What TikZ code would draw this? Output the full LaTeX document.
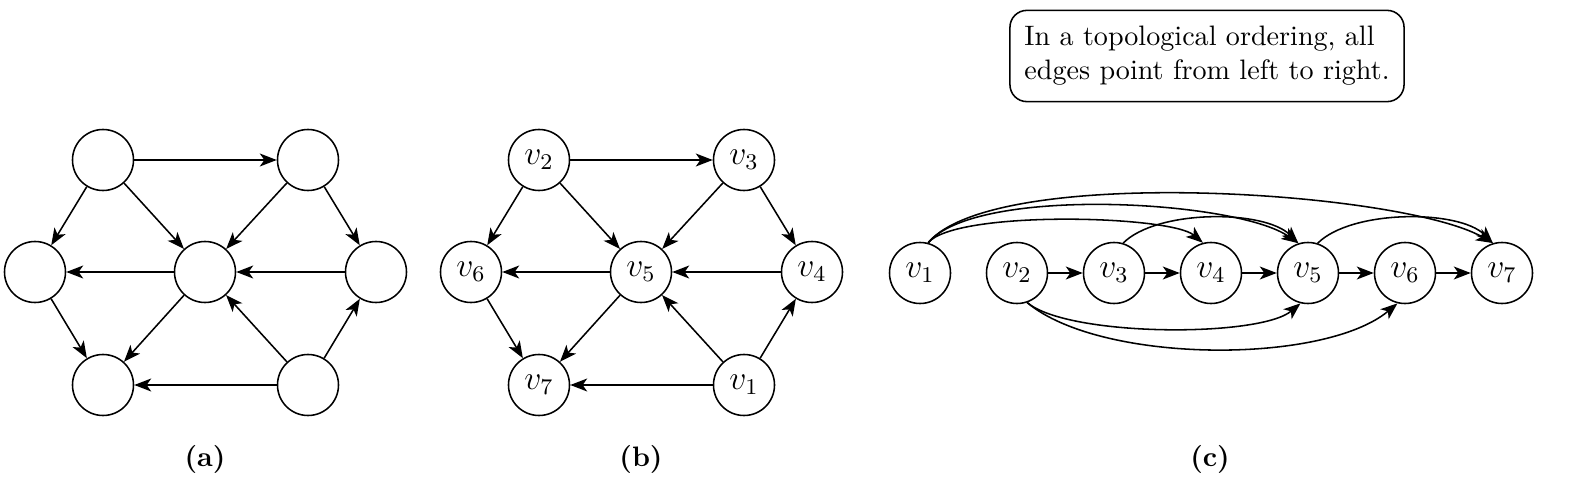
\documentclass[tikz,border=0pt]{standalone}
\usetikzlibrary{arrows.meta}
\begin{document}
\begin{tikzpicture}[x=0.0125cm, y=-0.0125cm, line width=0.55pt,
% common options for the vertices:
vert/.style = {circle, draw, minimum size=0.7625cm, inner sep=0, font=\large},
% common options for the edges:
edge/.style = {-{Stealth[length=6pt, width=4.6pt, inset=1.6pt]}},
% common options for the captions:
capt/.style = {font=\bfseries, anchor=center}]
\useasboundingbox (0,0) rectangle (1571,487);
% (a) unlabelled graph
\node[vert] (A2) at (103,160) {};
\node[vert] (A3) at (308,160) {};
\node[vert] (A6) at (35,272) {};
\node[vert] (A5) at (205,272) {};
\node[vert] (A4) at (376,272) {};
\node[vert] (A7) at (103,385) {};
\node[vert] (A1) at (308,385) {};
\draw[edge] (A2) -- (A3);
\draw[edge] (A2) -- (A6);
\draw[edge] (A2) -- (A5);
\draw[edge] (A3) -- (A5);
\draw[edge] (A3) -- (A4);
\draw[edge] (A5) -- (A6);
\draw[edge] (A4) -- (A5);
\draw[edge] (A6) -- (A7);
\draw[edge] (A5) -- (A7);
\draw[edge] (A1) -- (A7);
\draw[edge] (A1) -- (A5);
\draw[edge] (A1) -- (A4);
% (b) labelled graph
\node[vert] (B2) at (539,160) {$v_2$};
\node[vert] (B3) at (744,160) {$v_3$};
\node[vert] (B6) at (471,272) {$v_6$};
\node[vert] (B5) at (641,272) {$v_5$};
\node[vert] (B4) at (812,272) {$v_4$};
\node[vert] (B7) at (539,385) {$v_7$};
\node[vert] (B1) at (744,385) {$v_1$};
\draw[edge] (B2) -- (B3);
\draw[edge] (B2) -- (B6);
\draw[edge] (B2) -- (B5);
\draw[edge] (B3) -- (B5);
\draw[edge] (B3) -- (B4);
\draw[edge] (B5) -- (B6);
\draw[edge] (B4) -- (B5);
\draw[edge] (B6) -- (B7);
\draw[edge] (B5) -- (B7);
\draw[edge] (B1) -- (B7);
\draw[edge] (B1) -- (B5);
\draw[edge] (B1) -- (B4);
% (c) topological ordering
\node[vert] (C1) at (920,273) {$v_1$};
\node[vert] (C2) at (1017,273) {$v_2$};
\node[vert] (C3) at (1114,273) {$v_3$};
\node[vert] (C4) at (1211,273) {$v_4$};
\node[vert] (C5) at (1308,273) {$v_5$};
\node[vert] (C6) at (1405,273) {$v_6$};
\node[vert] (C7) at (1502,273) {$v_7$};
\draw[edge] (C2) -- (C3);
\draw[edge] (C3) -- (C4);
\draw[edge] (C4) -- (C5);
\draw[edge] (C5) -- (C6);
\draw[edge] (C6) -- (C7);
\draw[edge] (C1.75) to[out=50, in=140, looseness=0.4] (C4.105);
\draw[edge] (C1.75) to[out=50, in=145, looseness=0.52] (C5.108);
\draw[edge] (C1.75) to[out=50, in=150, looseness=0.47] (C7.107);
\draw[edge] (C3.73) to[out=45, in=135, looseness=0.7] (C5.108);
\draw[edge] (C5.72) to[out=45, in=135, looseness=0.7] (C7.107);
\draw[edge] (C2.-71) to[out=-40, in=-140, looseness=0.5] (C5.-104);
\draw[edge] (C2.-71) to[out=-40, in=-140, looseness=0.66] (C6.-104);
% note and captions
\node[draw, rounded corners=6pt, align=left, minimum width=4.925cm,
      minimum height=1.14cm] (N0) at (1207,56)
      {In a topological ordering, all\\edges point from left to right.};
\node[capt] (La) at (205,459) {(a)};
\node[capt] (Lb) at (641,459) {(b)};
\node[capt] (Lc) at (1210,459) {(c)};
\end{tikzpicture}
\end{document}
